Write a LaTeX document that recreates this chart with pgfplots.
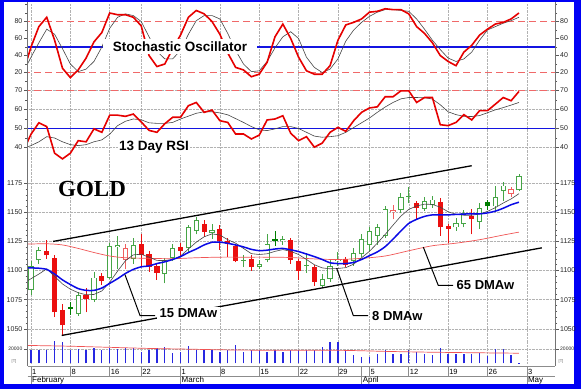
\documentclass[border=0pt]{standalone}
\usepackage{pgfplots}
\usepackage{pgfplotstable}
\pgfplotsset{compat=1.18}
\usepackage{fontspec}
\setmainfont{Liberation Sans}
\newfontfamily\goldfont{Liberation Serif}
\definecolor{frameblue}{RGB}{0,0,245}
\definecolor{kred}{RGB}{230,0,0}
\definecolor{dred}{RGB}{240,105,105}
\definecolor{lblue}{RGB}{20,20,225}
\definecolor{mablue}{RGB}{10,10,230}
\definecolor{mared}{RGB}{240,85,85}
\definecolor{dgray}{RGB}{70,70,70}
\definecolor{cgreen}{RGB}{70,165,70}
\definecolor{cred}{RGB}{235,15,15}
\definecolor{cpink}{RGB}{240,95,95}
\definecolor{cdgreen}{RGB}{0,125,0}
\definecolor{volblue}{RGB}{40,40,225}

% candles: i open high low close
\pgfplotstableread{
i O H L C
0 1083 1108 1079 1104
1 1109 1120 1106 1118
6 1063 1082 1061 1079
8 1075 1099 1073 1094
10 1094 1124 1093 1121
11 1120 1130 1101 1122
13 1110 1128 1106 1122
17 1097 1111 1089 1109
18 1111 1123 1108 1119
20 1119 1139 1116 1137
21 1134 1146 1131 1143
23 1132 1140 1127 1135
27 1108 1113 1103 1109
29 1103 1109 1101 1106
30 1109 1131 1107 1123
32 1125 1130 1122 1127
35 1104 1115 1098 1105
37 1087 1097 1085 1093
38 1093 1109 1090 1104
39 1108 1116 1104 1110
41 1108 1119 1104 1115
42 1114 1131 1112 1127
43 1122 1137 1117 1134
44 1130 1140 1122 1137
45 1130 1155 1128 1153
47 1152 1167 1149 1163
48 1163 1172 1158 1164
50 1153 1163 1151 1160
51 1156 1164 1154 1161
54 1137 1145 1134 1141
55 1140 1152 1137 1149
57 1142 1158 1136 1154
59 1155 1173 1150 1163
60 1168 1176 1160 1173
62 1169 1183 1168 1181
}\hollowgreen
\pgfplotstableread{
i O H L C
12 1109 1123 1101 1119
46 1150 1156 1144 1152
61 1166 1172 1163 1170
}\hollowred
\pgfplotstableread{
i O H L C
2 1117 1126 1110 1113
3 1111 1113 1060 1064
4 1066 1071 1044 1053
7 1079 1085 1064 1076
9 1095 1098 1088 1091
14 1123 1131 1104 1113
15 1114 1117 1099 1103
16 1104 1106 1092 1098
19 1120 1124 1112 1117
22 1140 1143 1129 1133
24 1136 1139 1118 1125
25 1125 1128 1112 1123
26 1121 1123 1107 1108
28 1110 1113 1100 1103
33 1126 1128 1106 1109
34 1108 1110 1092 1100
36 1103 1105 1087 1090
40 1110 1112 1103 1105
49 1158 1160 1144 1154
52 1159 1162 1130 1137
53 1138 1140 1124 1136
56 1147 1153 1131 1144
}\filledred
\pgfplotstableread{
i O H L C
5 1069 1073 1062 1067
31 1127 1134 1121 1125
58 1159 1161 1152 1155
}\filledgreen
\pgfplotstableread{
i v
0 17700
1 17700
2 17700
3 30300
4 29000
5 17700
6 20000
7 17700
8 21300
9 17700
10 21300
11 20000
12 21300
13 20900
14 15400
15 17700
16 20900
17 22200
18 14500
19 15400
20 23600
21 17700
22 17700
23 17700
24 15400
25 17700
26 24500
27 15400
28 17700
29 17700
30 15400
31 17700
32 15400
33 17700
34 17700
35 17700
36 17700
37 22200
38 29000
39 29000
40 17700
41 11800
42 8600
43 8600
44 13200
45 17700
46 13200
47 13200
48 17700
49 15400
50 13200
51 11800
52 20900
53 13200
54 13200
55 13200
56 13200
57 14500
58 9900
59 20000
60 20000
61 11800
62 600
}\vol

\newcommand\wicks[2]{%
  \addplot[forget plot, draw=none, mark=none, error bars/.cd, y dir=plus, y explicit,
    error mark=none, error bar style={line width=0.9pt, draw=#2}]
    table[x=i, y=L, y error plus expr={\thisrow{H}-\thisrow{L}}] {#1};
  \addplot[forget plot, draw=none, mark=none, error bars/.cd, y dir=plus, y explicit,
    error mark=none, error bar style={line width=5.2pt, draw=#2}]
    table[x=i, y expr={min(\thisrow{O},\thisrow{C})},
      y error plus expr={max(abs(\thisrow{C}-\thisrow{O}),1)}] {#1};
}
\newcommand\hollowin[1]{%
  \addplot[forget plot, draw=none, mark=none, error bars/.cd, y dir=plus, y explicit,
    error mark=none, error bar style={line width=3.4pt, draw=white}]
    table[x=i, y expr={min(\thisrow{O},\thisrow{C})+0.8},
      y error plus expr={max(abs(\thisrow{C}-\thisrow{O})-1.6,0)}] {#1};
}

\pgfplotsset{
  panel/.style={
    scale only axis, width=527.5pt, anchor=south west,
    xmin=-0.445, xmax=66.58,
    axis line style={draw=none},
    tick align=outside, major tick length=3.5pt, minor tick length=2pt,
    ytick style={black!65, line width=0.5pt},
    xtick style={draw=none},
    yticklabel style={font=\fontsize{7}{8}\selectfont, text=black!85, inner sep=1.5pt},
    scaled y ticks=false,
    /pgf/number format/assume math mode=true,
    /pgf/number format/1000 sep={},
    major grid style={densely dotted, black!30, line width=0.5pt},
  },
  leftp/.style={panel, ytick pos=left,
    xtick={0,5,10,14,19,24,29,34,39,43,48,53,58,63}, xticklabels={}, xmajorgrids},
  rightp/.style={panel, ytick pos=right, yticklabel pos=right, xtick=\empty},
  dateax/.style={scale only axis, width=527.5pt, anchor=south west,
    xmin=-0.445, xmax=66.58, ymin=0, ymax=1, ytick=\empty,
    separate axis lines, y axis line style={draw=none},
    tick align=inside, xtick pos=left, xticklabel pos=left,
    xtick style={black!45, line width=0.6pt}},
}

\begin{document}
\begin{tikzpicture}
\begin{scope}[x=1pt,y=-1pt]
  \fill[frameblue] (0,0) rectangle (581,389);
  \fill[white] (3.5,2) rectangle (573.5,383.5);
  \path[use as bounding box] (0,0) rectangle (581,389);
\end{scope}

% ---------------- Stochastic oscillator
\begin{axis}[leftp, at={(27.5pt,-88pt)}, height=85pt, ymin=1.18, ymax=101.2,
  ytick={20,40,60,80}, minor ytick={10,30,50,70,90,100}]
  \addplot[dred, line width=0.8pt, dash pattern=on 7pt off 4pt] coordinates {(-1,80) (70,80)};
  \addplot[dred, line width=0.8pt, dash pattern=on 7pt off 4pt] coordinates {(-1,20) (70,20)};
  \addplot[lblue, line width=1.4pt] coordinates {(-1,50) (70,50)};
  \addplot[dgray, line width=0.6pt] coordinates {
  (-1,20) (0,38) (1,55) (2,71) (3,65) (4,48) (5,30) (6,21) (7,24) (8,33) (9,50) (10,72)
  (11,85) (12,89) (13,87) (14,80) (15,62) (16,45) (17,36) (18,36) (19,46) (20,65) (21,81)
  (22,87) (23,87) (24,83) (25,66) (26,46) (27,30) (28,21) (29,22) (30,33) (31,49) (32,62)
  (33,68) (34,60) (35,38) (36,26) (37,20) (38,24) (39,36) (40,57) (41,70) (42,79) (43,86)
  (44,91) (45,94) (46,94) (47,93) (48,92) (49,83) (50,71) (51,58) (52,47) (53,37) (54,33)
  (55,36) (56,44) (57,58) (58,70) (59,74) (60,78) (61,81) (62,85)};
  \addplot[kred, line width=1.6pt] coordinates {
  (-1,20) (0,50) (1,74) (2,85) (3,58) (4,25) (5,14) (6,23) (7,37) (8,56) (9,67) (10,90)
  (11,88) (12,88) (13,85) (14,75) (15,40) (16,27) (17,30) (18,48) (19,64) (20,85) (21,93)
  (22,89) (23,80) (24,65) (25,43) (26,26) (27,23) (28,15) (29,18) (30,32) (31,62) (32,77)
  (33,60) (34,38) (35,22) (36,18) (37,18) (38,28) (39,58) (40,76) (41,79) (42,83) (43,91)
  (44,92) (45,95) (46,94) (47,94) (48,89) (49,74) (50,66) (51,55) (52,40) (53,33) (54,28)
  (55,44) (56,52) (57,64) (58,71) (59,77) (60,79) (61,83) (62,90)};
\end{axis}
\begin{axis}[rightp, at={(27.5pt,-88pt)}, height=85pt, ymin=1.18, ymax=101.2,
  ytick={20,40,60,80}, minor ytick={10,30,50,70,90,100}]
\end{axis}

% ---------------- RSI
\begin{axis}[leftp, at={(27.5pt,-165pt)}, height=77pt, ymin=30.53, ymax=71.05,
  ytick={40,50,60,70}, minor y tick num=1, ymajorgrids]
  \addplot[dred, line width=0.8pt, dash pattern=on 7pt off 4pt] coordinates {(-1,70) (70,70)};
  \addplot[lblue, line width=1.4pt] coordinates {(-1,50) (70,50)};
  \addplot[dgray, line width=0.6pt] coordinates {
  (-1,39.5) (0,41) (1,43) (2,45.7) (3,45) (4,43) (5,41.5) (6,41) (7,41.5) (8,43) (9,44)
  (10,47) (11,51.5) (12,53.8) (13,55) (14,54.6) (15,53) (16,52.7) (17,52.7) (18,53.2)
  (19,55) (20,56.5) (21,58) (22,58.8) (23,58.8) (24,58.2) (25,57.2) (26,55.2) (27,53.2)
  (28,51) (29,49.3) (30,48.9) (31,49.8) (32,51) (33,51) (34,50) (35,48) (36,46) (37,45.4)
  (38,45.7) (39,46.2) (40,48) (41,50.5) (42,53) (43,55.5) (44,58.5) (45,61.3) (46,63.7)
  (47,65.6) (48,66.3) (49,66.3) (50,66.2) (51,65.5) (52,62.5) (53,58.8) (54,57.3)
  (55,56.4) (56,56.3) (57,56.8) (58,58.3) (59,59.8) (60,61) (61,62.3) (62,63.7)};
  \addplot[kred, line width=1.6pt] coordinates {
  (-1,38) (0,47) (1,53) (2,51) (3,37) (4,34) (5,37) (6,43.6) (7,43) (8,49.8) (9,48)
  (10,57) (11,57) (12,56.4) (13,57.6) (14,53.5) (15,49) (16,48) (17,52.5) (18,55.9)
  (19,55.9) (20,62) (21,63.7) (22,58.5) (23,59.7) (24,54.1) (25,53.2) (26,47.1) (27,47.1)
  (28,44.5) (29,46.5) (30,54.5) (31,55) (32,56.7) (33,47.5) (34,43.6) (35,45.7) (36,40.2)
  (37,42.3) (38,48) (39,50.6) (40,48.5) (41,54.1) (42,58.5) (43,60.8) (44,61.4) (45,66.7)
  (46,66.7) (47,69.8) (48,69.8) (49,63.7) (50,66.3) (51,66.3) (52,52) (53,51.5) (54,53.2)
  (55,57.3) (56,54.5) (57,59.4) (58,59.4) (59,62.8) (60,66.3) (61,64.6) (62,69.5)};
\end{axis}
\begin{axis}[rightp, at={(27.5pt,-165pt)}, height=77pt, ymin=30.53, ymax=71.05,
  ytick={40,50,60,70}, minor y tick num=1]
\end{axis}

% ---------------- Price
\begin{axis}[leftp, at={(27.5pt,-341pt)}, height=176pt, ymin=1039.1, ymax=1190.2,
  ytick={1050,1075,1100,1125,1150,1175}, minor y tick num=4, ymajorgrids]
  \wicks{\hollowgreen}{cgreen}
  \hollowin{\hollowgreen}
  \wicks{\hollowred}{cpink}
  \hollowin{\hollowred}
  \wicks{\filledred}{cred}
  \wicks{\filledgreen}{cdgreen}
  % 65 DMAw
  \addplot[mared, line width=0.7pt, smooth] coordinates {
  (-1,1122.5) (0,1122.8) (2,1123) (4,1122) (6,1119) (8,1115.5) (10,1112.5) (12,1111)
  (15,1110.5) (18,1110.2) (21,1111) (24,1111.5) (27,1111.5) (30,1111.5) (33,1111.2)
  (36,1110) (39,1109.5) (42,1110.5) (45,1112.5) (48,1117) (51,1121.3) (54,1123.5)
  (57,1126.5) (60,1130.5) (62,1133)};
  % 8 DMAw
  \addplot[dgray, line width=0.6pt] coordinates {
  (-1,1089) (0,1093) (1,1097) (2,1101.5) (3,1095) (4,1088.5) (5,1084) (6,1081) (7,1079.2)
  (8,1079.5) (9,1082.5) (10,1090) (11,1099.5) (12,1108.5) (13,1113.5) (14,1114)
  (15,1111.5) (16,1108.7) (17,1108.6) (18,1109.5) (19,1112.5) (20,1118.5) (21,1124.4)
  (22,1129) (23,1131.5) (24,1130.5) (25,1126.5) (26,1123.5) (27,1119) (28,1114.5)
  (29,1113.8) (30,1114.4) (31,1116.5) (32,1118) (33,1116.5) (34,1113.8) (35,1109.5)
  (36,1105) (37,1102.3) (38,1101.5) (39,1101.8) (40,1102.5) (41,1105.5) (42,1111)
  (43,1116.5) (44,1123.5) (45,1131) (46,1139) (47,1146.8) (48,1152.5) (49,1155.5)
  (50,1157) (51,1156.8) (52,1154.4) (53,1150.5) (54,1148.3) (55,1147.5) (56,1147.5)
  (57,1148.6) (58,1150.8) (59,1154) (60,1158) (61,1161.5) (62,1166)};
  % 15 DMAw
  \addplot[mablue, line width=1.5pt, smooth, tension=0.4] coordinates {
  (-1,1102.5) (0,1102.3) (1,1102) (2,1101) (3,1097) (4,1092) (5,1088) (6,1084.5)
  (7,1083) (8,1083) (9,1085) (10,1089) (11,1093) (12,1097.5) (13,1101) (14,1103.2)
  (15,1104) (16,1106) (17,1107.5) (18,1109.5) (19,1112) (20,1115.5) (21,1118.5) (22,1122)
  (23,1124.3) (24,1124.4) (25,1123.4) (26,1122) (27,1120.3) (28,1118.2) (29,1117.1)
  (30,1117.5) (31,1118.5) (32,1119) (33,1117.8) (34,1116.3) (35,1114.2) (36,1112)
  (37,1109.5) (38,1106.7) (39,1106) (40,1106) (41,1107) (42,1109.5) (43,1112.8) (44,1116)
  (45,1120.5) (46,1127) (47,1134) (48,1140.5) (49,1144) (50,1146.5) (51,1147.8)
  (52,1147.8) (53,1147.8) (54,1148.2) (55,1148.5) (56,1148.7) (57,1148.7) (58,1149.5)
  (59,1151) (60,1153.5) (61,1156.5) (62,1158.7)};
  % trend channel
  \addplot[black, line width=1.3pt] coordinates {(2.8,1125) (56,1190)};
  \addplot[black, line width=1.3pt] coordinates {(3.9,1044.3) (64.9,1119.5)};
  % callouts
  \addplot[black, line width=1pt] coordinates {(11.94,1096.5) (13.85,1061.4) (15.76,1061.4)};
  \addplot[black, line width=1pt] coordinates {(38.84,1102) (40.95,1061.4) (42.82,1061.4)};
  \addplot[black, line width=1pt] coordinates {(49.85,1120.1) (51.75,1087.2) (53.62,1087.2)};
\end{axis}
\begin{axis}[rightp, at={(27.5pt,-341pt)}, height=176pt, ymin=1039.1, ymax=1190.2,
  ytick={1050,1075,1100,1125,1150,1175}, minor y tick num=4]
\end{axis}

% ---------------- Volume
\begin{axis}[leftp, at={(27.5pt,-363pt)}, height=23pt, ymin=0, ymax=31300,
  ytick={20000}, ymajorgrids,
  yticklabel style={font=\fontsize{5}{6}\selectfont}]
  \addplot[ycomb, volblue, line width=1.3pt, mark=none] table[x=i, y=v] {\vol};
  \addplot[mared, line width=0.7pt, smooth] coordinates {
  (-1,24700) (5,23500) (10,22000) (15,20500) (20,19500) (25,18500) (30,18000) (35,18000)
  (40,17800) (45,16500) (50,15500) (55,14800) (62,14000)};
\end{axis}
\begin{axis}[rightp, at={(27.5pt,-363pt)}, height=23pt, ymin=0, ymax=31300,
  ytick={20000}, yticklabel style={font=\fontsize{5}{6}\selectfont}]
\end{axis}

% ---------------- Date bands
\begin{axis}[dateax, at={(27.5pt,-376pt)}, height=10pt,
  x axis line style={black!45, line width=0.6pt},
  major tick length=10pt,
  xtick={0,5,10,14,19,24,29,34,39,42,43,48,53,58,63},
  xticklabels={1,8,16,22,1,8,15,22,29,,5,12,19,26,3},
  xticklabel style={anchor=west, yshift=5pt, inner sep=1pt, font=\fontsize{7.5}{8}\selectfont}]
\end{axis}
\begin{axis}[dateax, at={(27.5pt,-383.5pt)}, height=7.5pt,
  x axis line style={draw=none},
  major tick length=7.5pt,
  xtick={0,19,42,63},
  xticklabels={February,March,April,May},
  xticklabel style={anchor=west, yshift=3.9pt, inner sep=1pt, font=\fontsize{8}{9}\selectfont}]
\end{axis}

% ---------------- frame lines and annotations
\begin{scope}[x=1pt,y=-1pt]
  \draw[black!55, line width=0.6pt] (27.5,2) -- (27.5,366);
  \draw[black!55, line width=0.6pt] (555,2) -- (555,366);
  \node[fill=white, inner xsep=10pt, inner ysep=3pt, font=\fontsize{13.5}{14}\selectfont\bfseries]
    at (180,46) {Stochastic Oscillator};
  \node[fill=white, inner sep=1pt, font=\fontsize{13.5}{14}\selectfont\bfseries]
    at (154,147) {13 Day RSI};
  \node[font=\goldfont\fontsize{23}{24}\selectfont\bfseries] at (92,189) {GOLD};
  \node[anchor=west, fill=white, inner xsep=3pt, inner ysep=1pt,
    font=\fontsize{13}{14}\selectfont\bfseries] at (156.5,312.5) {15 DMAw};
  \node[anchor=west, inner xsep=3pt, inner ysep=1pt,
    font=\fontsize{13}{14}\selectfont\bfseries] at (369,316) {8 DMAw};
  \node[anchor=west, inner xsep=3pt, inner ysep=1pt,
    font=\fontsize{13}{14}\selectfont\bfseries] at (453.5,285) {65 DMAw};
  \node[font=\fontsize{4}{5}\selectfont, text=black!60] at (14,361) {[T]};
  \node[font=\fontsize{4}{5}\selectfont, text=black!60] at (561,361) {[T]};
\end{scope}
\end{tikzpicture}
\end{document}
